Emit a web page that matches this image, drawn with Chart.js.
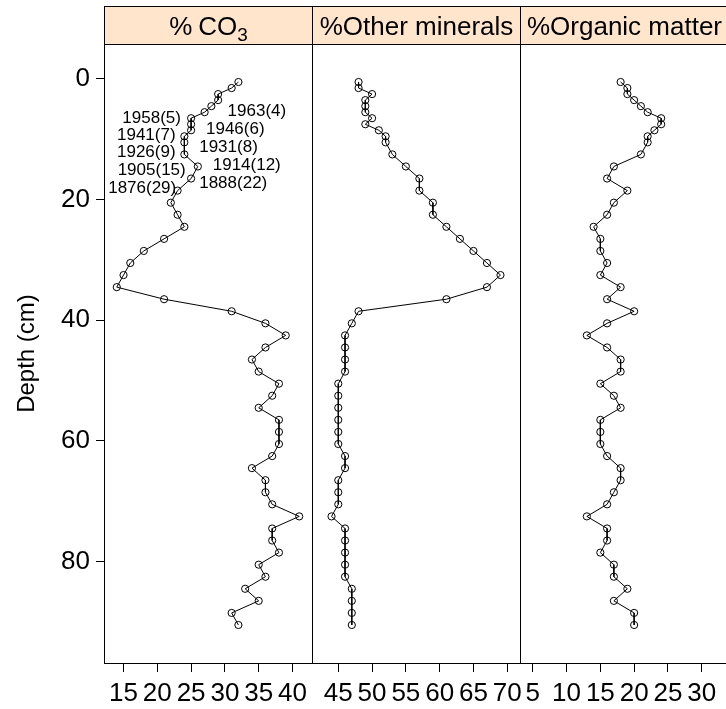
<!DOCTYPE html>
<html>
<head>
<meta charset="utf-8">
<script src="https://cdn.jsdelivr.net/npm/chart.js@4.4.1/dist/chart.umd.min.js"></script>
<style>
  html, body { margin: 0; padding: 0; background: #fff; overflow: hidden; width: 726px; height: 709px; }
  .wrap { position: relative; width: 726px; height: 709px; }
  canvas { position: absolute; left: 0; top: 0; }
</style>
</head>
<body>
<div class="wrap">
  <canvas id="cCO3" width="740" height="709"></canvas>
  <canvas id="cOther" width="740" height="709"></canvas>
  <canvas id="cOrg" width="740" height="709"></canvas>
</div>
<script>
// sample mid-depths (cm)
const depth = [0.5, 1.5, 2.5, 3.5, 4.5, 5.5, 6.5, 7.5, 8.5, 9.5, 10.5,
  12.5, 14.5, 16.5, 18.5, 20.5, 22.5, 24.5, 26.5, 28.5, 30.5,
  32.5, 34.5, 36.5, 38.5, 40.5, 42.5, 44.5, 46.5, 48.5, 50.5,
  52.5, 54.5, 56.5, 58.5, 60.5, 62.5, 64.5, 66.5, 68.5, 70.5,
  72.5, 74.5, 76.5, 78.5, 80.5, 82.5, 84.5, 86.5, 88.5, 90.5];

const co3 = [32, 31, 29, 29, 28, 27, 25, 25, 25, 24, 24,
  24, 26, 25, 23, 22, 23, 24, 21, 18, 16,
  15, 14, 21, 31, 36, 39, 36, 34, 35, 38,
  37, 35, 38, 38, 38, 37, 34, 36, 36, 37,
  41, 37, 37, 38, 35, 36, 33, 35, 31, 32];

const otherMinerals = [48, 48, 50, 49, 49, 49, 50, 49, 51, 52, 52,
  53, 55, 57, 57, 59, 59, 61, 63, 65, 67,
  69, 67, 61, 48, 47, 46, 46, 46, 46, 45,
  45, 45, 45, 45, 45, 46, 46, 45, 45, 45,
  44, 46, 46, 46, 46, 46, 47, 47, 47, 47];

const organicMatter = [18, 19, 19, 20, 21, 22, 24, 24, 23, 22, 22,
  21, 17, 16, 19, 17, 16, 14, 15, 15, 16,
  15, 18, 16, 20, 16, 13, 16, 18, 18, 15,
  17, 18, 15, 15, 15, 16, 18, 18, 17, 16,
  13, 16, 16, 15, 17, 17, 19, 17, 20, 20];

const co3Ticks = [15, 20, 25, 30, 35, 40];
const otherTicks = [45, 50, 55, 60, 65, 70];
const organicTicks = [5, 10, 15, 20, 25, 30];
const depthTicks = [0, 20, 40, 60, 80];

// 210Pb dates (error in years) written beside the CO3 profile
const dateLabels = ['1963(4)', '1958(5)', '1946(6)', '1941(7)', '1931(8)',
  '1926(9)', '1914(12)', '1905(15)', '1888(22)', '1876(29)'];
const dateCO3 = [30.4, 23.5, 27.2, 22.7, 26.2, 22.7, 28.2, 24.2, 26.2, 22.8];
const dateDepth = [5.3, 6.5, 8.3, 9.4, 11.3, 12.2, 14.3, 15.1, 17.3, 18.1];
const dateSide = ['right', 'left', 'right', 'left', 'right', 'left', 'right', 'left', 'right', 'left'];

// layout
const CANVAS_W = 740;
const STRIP_TOP = 6;
const PANEL_TOP = 44;
const PANEL_BOTTOM = 663;
const PANEL_W = 208;
const FONT = '"Liberation Sans", Arial, sans-serif';

Chart.defaults.font.family = FONT;
Chart.defaults.color = '#000';

// lattice-style "sliced" limits: same width for every panel, 7% padding
const allSeries = [co3, otherMinerals, organicMatter];
const sliceWidth = Math.max(...allSeries.map(s => Math.max(...s) - Math.min(...s))) * 1.14;
function sliced(vals) {
  const mid = (Math.max(...vals) + Math.min(...vals)) / 2;
  return [mid - sliceWidth / 2, mid + sliceWidth / 2];
}
const dSpan = Math.max(...depth) - Math.min(...depth);
const depthLim = [Math.min(...depth) - 0.07 * dSpan, Math.max(...depth) + 0.07 * dSpan];

const stripPlugin = {
  id: 'strip',
  afterDraw(chart, args, opts) {
    const { ctx, chartArea: a } = chart;
    const l = Math.round(a.left) + 0.5, r = Math.round(a.right) + 0.5;
    const t = STRIP_TOP + 0.5, b = Math.round(a.top) + 0.5;
    const bot = Math.round(a.bottom) + 0.5;
    ctx.save();
    ctx.fillStyle = '#ffe5cc';
    ctx.fillRect(l, t, r - l, b - t);
    ctx.strokeStyle = '#000';
    ctx.lineWidth = 1;
    ctx.strokeRect(l, t, r - l, b - t);
    ctx.strokeRect(l, b, r - l, bot - b);

    ctx.fillStyle = '#000';
    ctx.textBaseline = 'alphabetic';
    ctx.textAlign = 'left';
    const parts = opts.parts;
    let total = 0;
    parts.forEach(p => {
      ctx.font = p.size + 'px ' + FONT;
      p.w = ctx.measureText(p.text).width;
      total += p.w + (p.gap || 0);
    });
    let x = (l + r) / 2 - total / 2;
    parts.forEach(p => {
      ctx.font = p.size + 'px ' + FONT;
      ctx.fillText(p.text, x, 35 + (p.dy || 0));
      x += p.w + (p.gap || 0);
    });
    ctx.restore();
  }
};

const datesPlugin = {
  id: 'dates',
  afterDatasetsDraw(chart) {
    const { ctx, scales } = chart;
    ctx.save();
    ctx.font = '17px ' + FONT;
    ctx.fillStyle = '#000';
    ctx.textBaseline = 'middle';
    dateLabels.forEach((txt, i) => {
      ctx.textAlign = dateSide[i] === 'right' ? 'left' : 'right';
      ctx.fillText(txt, scales.x.getPixelForValue(dateCO3[i]), scales.y.getPixelForValue(dateDepth[i]));
    });
    ctx.restore();
  }
};

function makePanel(id, values, ticks, panelLeft, parts, withYAxis, extraPlugins) {
  const lim = sliced(values);
  return new Chart(document.getElementById(id), {
    type: 'scatter',
    data: {
      datasets: [{
        data: depth.map((d, i) => ({ x: values[i], y: d })),
        showLine: true,
        borderColor: '#000',
        borderWidth: 1,
        pointRadius: 3.6,
        pointBorderWidth: 1,
        pointBorderColor: '#000',
        pointBackgroundColor: 'rgba(0,0,0,0)'
      }]
    },
    options: {
      responsive: false,
      animation: false,
      events: [],
      layout: {
        padding: {
          left: withYAxis ? 0 : panelLeft,
          right: CANVAS_W - panelLeft - PANEL_W,
          top: PANEL_TOP,
          bottom: 0
        }
      },
      plugins: { legend: { display: false }, tooltip: { enabled: false }, strip: { parts } },
      scales: {
        x: {
          type: 'linear',
          min: lim[0],
          max: lim[1],
          afterBuildTicks: s => { s.ticks = ticks.map(v => ({ value: v })); },
          afterFit: s => { s.height = 709 - PANEL_BOTTOM; },
          border: { display: false },
          grid: { drawOnChartArea: false, drawTicks: true, tickLength: 9, color: '#000', lineWidth: 1 },
          ticks: { autoSkip: false, maxRotation: 0, padding: 6, font: { size: 26 }, color: '#000' }
        },
        y: {
          type: 'linear',
          reverse: true,
          min: depthLim[0],
          max: depthLim[1],
          display: withYAxis,
          afterBuildTicks: s => { s.ticks = depthTicks.map(v => ({ value: v })); },
          afterFit: s => { if (withYAxis) s.width = panelLeft; },
          border: { display: false },
          grid: { drawOnChartArea: false, drawTicks: true, tickLength: 8, color: '#000', lineWidth: 1 },
          ticks: { padding: 6, font: { size: 26 }, color: '#000' },
          title: { display: true, text: 'Depth (cm)', font: { size: 24 }, padding: { top: 13, bottom: 0 }, color: '#000' }
        }
      }
    },
    plugins: [stripPlugin].concat(extraPlugins || [])
  });
}

makePanel('cCO3', co3, co3Ticks, 104,
  [{ text: '%', size: 26, gap: 6 }, { text: 'CO', size: 26 }, { text: '3', size: 19, dy: 6 }], true, [datesPlugin]);
makePanel('cOther', otherMinerals, otherTicks, 312,
  [{ text: '%Other minerals', size: 26 }], false);
makePanel('cOrg', organicMatter, organicTicks, 520,
  [{ text: '%Organic matter', size: 26 }], false);
</script>
</body>
</html>
